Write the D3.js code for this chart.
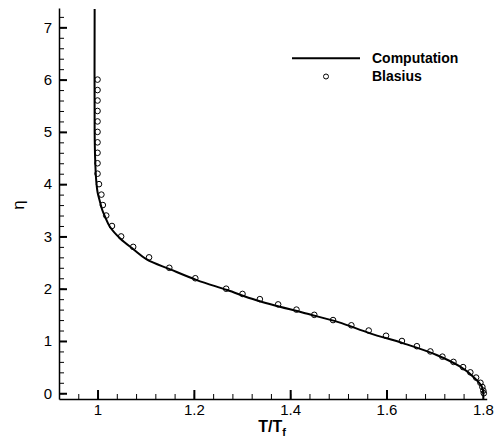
<!DOCTYPE html>
<html>
<head>
<meta charset="utf-8">
<script src="https://cdn.jsdelivr.net/npm/d3@7"></script>
<style>
  body { margin: 0; background: #fff; }
  svg text { font-family: "Liberation Sans", Arial, sans-serif; fill: #000; }
</style>
</head>
<body>
<svg id="chart" width="499" height="440"></svg>
<script>
// computation curve (T/Tf, eta)
var compT   = [0.994, 0.994, 0.995, 0.997, 1.000, 1.004, 1.010, 1.016, 1.026, 1.047, 1.075, 1.102, 1.151, 1.206, 1.269, 1.330, 1.431, 1.500, 1.566, 1.635, 1.704, 1.753, 1.780, 1.798, 1.801];
var compEta = [7.35, 5.0, 4.5, 4.1, 3.85, 3.7, 3.5, 3.37, 3.18, 2.96, 2.75, 2.56, 2.37, 2.165, 1.974, 1.78, 1.53, 1.36, 1.146, 0.955, 0.732, 0.508, 0.317, 0.126, 0.0];

// Blasius solution points
var blasiusEta = [6.0, 5.8, 5.6, 5.4, 5.2, 5.0, 4.8, 4.6, 4.4, 4.2, 4.0, 3.8, 3.6, 3.4, 3.2, 3.0, 2.8, 2.6, 2.4, 2.2,
                  2.0, 1.9, 1.8, 1.7, 1.6, 1.5, 1.4, 1.3, 1.2, 1.1, 1.0, 0.9, 0.8, 0.7, 0.6, 0.5, 0.4, 0.3, 0.2, 0.12, 0.05, 0.0];
var blasiusT   = [1.000, 1.000, 1.000, 1.000, 1.000, 1.000, 1.000, 1.000, 1.000, 1.000, 1.003, 1.008, 1.011, 1.018, 1.030, 1.049, 1.074, 1.107, 1.149, 1.203,
                  1.267, 1.301, 1.337, 1.375, 1.413, 1.450, 1.489, 1.527, 1.563, 1.599, 1.632, 1.663, 1.691, 1.716, 1.739, 1.759, 1.774, 1.786, 1.795, 1.799, 1.801, 1.802];

// tick labels
var xTicks = [1, 1.2, 1.4, 1.6, 1.8];
var yTicks = [0, 1, 2, 3, 4, 5, 6, 7];
var xMinor = d3.range(0.96, 1.81, 0.04);
var yMinor = d3.range(0, 7.31, 0.2);

var svg = d3.select('#chart');

var x = d3.scaleLinear().domain([0.92, 1.808]).range([59, 486.7]);
var y = d3.scaleLinear().domain([-0.11, 7.37]).range([399, 8]);

// minor ticks
svg.append('g')
   .attr('transform', 'translate(0,399)')
   .call(d3.axisBottom(x).tickValues(xMinor).tickSize(-5).tickSizeOuter(0).tickFormat(''))
   .call(g => g.select('.domain').remove())
   .selectAll('line').attr('stroke', '#000').attr('stroke-width', 1);

svg.append('g')
   .attr('transform', 'translate(59,0)')
   .call(d3.axisLeft(y).tickValues(yMinor).tickSize(-5).tickSizeOuter(0).tickFormat(''))
   .call(g => g.select('.domain').remove())
   .selectAll('line').attr('stroke', '#000').attr('stroke-width', 1);

// major ticks + labels
var xAxis = svg.append('g')
   .attr('transform', 'translate(0,399)')
   .call(d3.axisBottom(x).tickValues(xTicks).tickSize(-9).tickSizeOuter(0).tickPadding(5).tickFormat(d3.format('')));
xAxis.selectAll('line').attr('stroke', '#000').attr('stroke-width', 2);
xAxis.select('.domain').attr('stroke', '#000').attr('stroke-width', 1.5);
xAxis.selectAll('text').attr('font-size', 15).attr('fill', '#000');

var yAxis = svg.append('g')
   .attr('transform', 'translate(59,0)')
   .call(d3.axisLeft(y).tickValues(yTicks).tickSize(-8).tickSizeOuter(0).tickPadding(7));
yAxis.selectAll('line').attr('stroke', '#000').attr('stroke-width', 2);
yAxis.select('.domain').attr('stroke', '#000').attr('stroke-width', 1.5);
yAxis.selectAll('text').attr('font-size', 15).attr('fill', '#000');

// computation line
var line = d3.line()
    .x(i => x(compT[i]))
    .y(i => y(compEta[i]))
    .curve(d3.curveCatmullRom);

svg.append('path')
   .attr('d', line(d3.range(compT.length)))
   .attr('fill', 'none')
   .attr('stroke', '#000')
   .attr('stroke-width', 2);

// Blasius symbols
svg.selectAll('circle.pt')
   .data(d3.range(blasiusT.length))
   .enter().append('circle')
   .attr('class', 'pt')
   .attr('cx', i => x(blasiusT[i]))
   .attr('cy', i => y(blasiusEta[i]))
   .attr('r', 2.8)
   .attr('fill', 'none')
   .attr('stroke', '#000')
   .attr('stroke-width', 1);

// legend
var leg = svg.append('g');
leg.append('line').attr('x1', 292).attr('x2', 360).attr('y1', 58.3).attr('y2', 58.3)
   .attr('stroke', '#000').attr('stroke-width', 2);
leg.append('text').attr('x', 372).attr('y', 63).attr('font-size', 14).attr('font-weight', 'bold').text('Computation');
leg.append('circle').attr('cx', 326).attr('cy', 76.5).attr('r', 2.5)
   .attr('fill', 'none').attr('stroke', '#000').attr('stroke-width', 1);
leg.append('text').attr('x', 372).attr('y', 81).attr('font-size', 14).attr('font-weight', 'bold').text('Blasius');

// axis titles
var xt = svg.append('text').attr('x', 272).attr('y', 432).attr('text-anchor', 'middle')
   .attr('font-size', 16).attr('font-weight', 'bold');
xt.append('tspan').text('T/T');
xt.append('tspan').attr('font-size', 11).attr('dy', 4).text('f');

svg.append('text')
   .attr('transform', 'translate(24,205) rotate(-90)')
   .attr('text-anchor', 'middle')
   .attr('font-size', 17)
   .text('η');
</script>
</body>
</html>
